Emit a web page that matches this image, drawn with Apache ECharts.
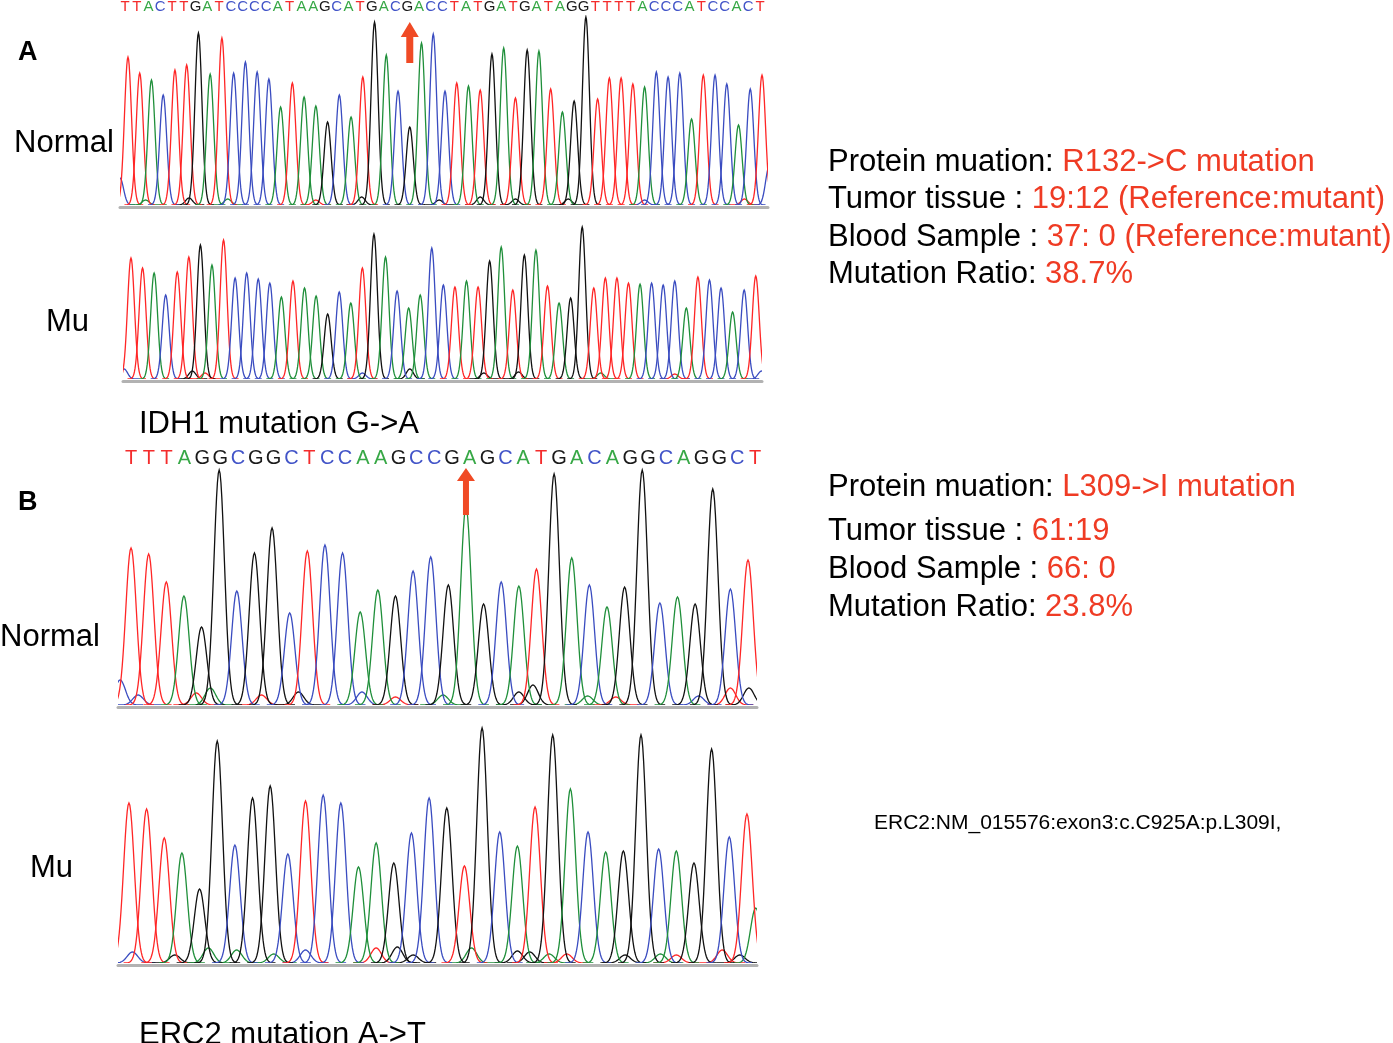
<!DOCTYPE html>
<html lang="en">
<head>
<meta charset="UTF-8">
<title>IDH1 / ERC2 chromatograms</title>
<script src="https://cdn.jsdelivr.net/npm/echarts@6/dist/echarts.min.js"></script>
<style>
    html, body { margin: 0; padding: 0; background: #fff; }
    #main { width: 1393px; height: 1043px; }
</style>
</head>
<body>
<div id="main"></div>
<script>
// base calls (top of each normal trace) and the mutant calls
var seqA   = 'TTACTTGATCCCCATAAGCATGACGACCTATGATGATAGGTTTTACCCATCCACT';
var seqAMu = 'TTACTTGATCCCCATAAGCATGACAACCTATGATGATAGGTTTTACCCATCCACT';
var seqB   = 'TTTAGGCGGCTCCAAGCCGAGCATGACAGGCAGGCT';
var seqBMu = 'TTTAGGCGGCTCCAAGCCGTGCATGACAGGCAGGCT';

// peak heights, one per base
var normalA = [148,132,125,110,135,140,172,131,167,132,143,133,126,98,122,108,99,83,110,88,128,183,150,114,78,162,171,114,
               122,119,115,151,157,107,155,154,116,93,104,188,106,127,127,121,118,133,128,132,86,130,130,121,80,116,130];
var muA     = [121,111,106,84,107,122,134,114,139,101,106,100,96,82,98,91,83,65,87,76,111,145,122,88,71,84,131,94,
               92,98,92,118,132,89,124,129,93,76,81,152,91,101,101,96,95,96,94,98,71,102,99,91,67,89,103];
var normalB = [157,151,123,109,78,235,114,152,177,92,154,160,152,93,115,109,134,148,
               120,198,101,123,119,136,231,147,120,98,118,235,102,108,101,216,116,145];
var muB     = [160,154,125,110,74,222,118,165,177,109,162,168,160,96,120,100,130,165,
               155,97,235,131,117,156,228,174,131,111,112,228,114,112,100,214,126,149];

// small off-call bumps near the baseline: [position, height, base]
var minorNA = [[-0.68,27,'C'],[1.5,5,'A'],[5.2,7,'G'],[8.5,6,'A'],[16,5,'T'],[19.9,8,'G'],[26.5,5,'G'],
               [30,8,'G'],[33,6,'G'],[37.5,6,'G'],[44,5,'C'],[52.5,6,'T'],[54.6,38,'C']];
var minorMA = [[-0.6,10,'C'],[5.3,8,'G'],[6.4,6,'T'],[20,6,'C'],[24.1,10,'G'],[30.5,6,'G'],[33.5,7,'G'],
               [40.6,6,'A'],[47,5,'T'],[54.5,8,'C']];
var minorNB = [[-0.62,25,'C'],[0.4,10,'C'],[3.7,12,'T'],[4.5,17,'A'],[7.4,10,'T'],[9.5,13,'G'],[13.1,13,'C'],
               [15,8,'T'],[17.7,10,'A'],[22,13,'G'],[22.8,20,'G'],[25.9,9,'A'],[27.5,8,'T'],[32.2,9,'C'],
               [34,17,'T'],[35.05,17,'G']];
var minorMB = [[0.2,11,'C'],[2.6,8,'G'],[4.5,15,'A'],[6.1,13,'A'],[8.2,9,'A'],[10,13,'C'],[14,15,'T'],
               [15.2,16,'G'],[16.1,8,'G'],[19.4,15,'A'],[22,12,'G'],[22.7,11,'G'],[23.8,9,'A'],[24.8,9,'T'],
               [28.1,8,'G'],[30.1,9,'A'],[31,8,'T'],[33.6,13,'T'],[34.6,8,'G'],[35.5,55,'A']];

var mutIndexA = 24;
var mutIndexB = 19;

var infoA = [
    ['Protein muation: ', 'R132->C mutation'],
    ['Tumor tissue : ', '19:12 (Reference:mutant)'],
    ['Blood Sample : ', '37: 0 (Reference:mutant)'],
    ['Mutation Ratio: ', '38.7%']
];
var infoB = [
    ['Protein muation: ', 'L309->I mutation'],
    ['Tumor tissue : ', '61:19'],
    ['Blood Sample : ', '66: 0'],
    ['Mutation Ratio: ', '23.8%']
];
var noteB = 'ERC2:NM_015576:exon3:c.C925A:p.L309I,';

var traceColor  = { A: '#1f8f3a', C: '#3a4cc0', G: '#111111', T: '#ff2626' };
var letterColor = { A: '#37a846', C: '#4254c8', G: '#1a1a1a', T: '#f42c2c' };
var RED = '#ef3b24';
var FONT = '"Liberation Sans", Arial, Helvetica, sans-serif';

var chart = echarts.init(document.getElementById('main'));

// panel geometry: normal A, mu A, normal B, mu B
var panels = [
    { left: 120, top: 15,  width: 648, height: 190, xmin: -0.68, xmax: 54.51, ymax: 190 },
    { left: 123, top: 189, width: 639, height: 190, xmin: -0.69, xmax: 54.54, ymax: 190 },
    { left: 118, top: 465, width: 639, height: 240, xmin: -0.74, xmax: 35.51, ymax: 240 },
    { left: 118, top: 723, width: 639, height: 240, xmin: -0.62, xmax: 35.57, ymax: 240 }
];

var grids = [], xAxes = [], yAxes = [];
panels.forEach(function (p, i) {
    grids.push({ left: p.left, top: p.top, width: p.width, height: p.height });
    xAxes.push({
        type: 'value', gridIndex: i, min: p.xmin, max: p.xmax,
        axisLine: { show: true, onZero: false, lineStyle: { color: '#b2b2b2', width: 3 } },
        offset: 2, axisTick: { show: false }, axisLabel: { show: false }, splitLine: { show: false }
    });
    yAxes.push({ type: 'value', gridIndex: i, min: 0, max: p.ymax, show: false, splitLine: { show: false } });
});
// separate axes for the called-letter rows (their spacing differs a little from the peaks)
xAxes.push({ type: 'value', gridIndex: 0, min: -0.425, max: 54.68, show: false });
xAxes.push({ type: 'value', gridIndex: 2, min: -0.73, max: 35.11, show: false });

var SIGMA = 0.3;

function renderPeak(params, api) {
    var pos = api.value(0), h = api.value(1);
    var pts = [];
    for (var d = -1.3; d <= 1.3001; d += 0.05) {
        pts.push(api.coord([pos + d, h * Math.exp(-d * d / (2 * SIGMA * SIGMA))]));
    }
    return {
        type: 'polyline',
        shape: { points: pts },
        style: { stroke: api.visual('color'), lineWidth: 1.3, fill: null }
    };
}

function peakData(heights, seq, minor) {
    var out = [];
    minor.forEach(function (m) {
        out.push({ value: [m[0], m[1]], itemStyle: { color: traceColor[m[2]] } });
    });
    heights.forEach(function (h, i) {
        out.push({ value: [i, h], itemStyle: { color: traceColor[seq[i]] } });
    });
    return out;
}

function letterData(seq, ymax) {
    return seq.split('').map(function (b, i) {
        return { value: [i, ymax], itemStyle: { color: letterColor[b] } };
    });
}

var seqLetters = { lettersA: seqA, lettersB: seqB };

function letterRender(fontSize, dy) {
    return function (params, api) {
        var pt = api.coord([api.value(0), api.value(1)]);
        return {
            type: 'text',
            x: pt[0], y: pt[1] + dy,
            style: {
                text: seqLetters[params.seriesName][params.dataIndex],
                fill: api.visual('color'),
                font: fontSize + 'px ' + FONT,
                align: 'center', verticalAlign: 'middle'
            }
        };
    };
}

function arrowRender(headH, headW, shaftW) {
    return function (params, api) {
        var tip = api.coord([api.value(0), api.value(1)]);
        var bot = api.coord([api.value(0), api.value(2)]);
        var x = tip[0], y = tip[1];
        return {
            type: 'polygon',
            shape: { points: [
                [x, y], [x + headW, y + headH], [x + shaftW, y + headH],
                [x + shaftW, bot[1]], [x - shaftW, bot[1]], [x - shaftW, y + headH], [x - headW, y + headH]
            ] },
            style: { fill: '#f04a25' }
        };
    };
}

var series = [
    { type: 'custom', name: 'normalA', xAxisIndex: 0, yAxisIndex: 0, clip: true, renderItem: renderPeak, data: peakData(normalA, seqA, minorNA) },
    { type: 'custom', name: 'muA',     xAxisIndex: 1, yAxisIndex: 1, clip: true, renderItem: renderPeak, data: peakData(muA, seqAMu, minorMA) },
    { type: 'custom', name: 'normalB', xAxisIndex: 2, yAxisIndex: 2, clip: true, renderItem: renderPeak, data: peakData(normalB, seqB, minorNB) },
    { type: 'custom', name: 'muB',     xAxisIndex: 3, yAxisIndex: 3, clip: true, renderItem: renderPeak, data: peakData(muB, seqBMu, minorMB) },
    { type: 'custom', name: 'lettersA', xAxisIndex: 4, yAxisIndex: 0, clip: false, renderItem: letterRender(15, -8), data: letterData(seqA, 190) },
    { type: 'custom', name: 'lettersB', xAxisIndex: 5, yAxisIndex: 2, clip: false, renderItem: letterRender(20, -7), data: letterData(seqB, 240) },
    { type: 'custom', name: 'arrowA', xAxisIndex: 0, yAxisIndex: 0, clip: false, z: 5, renderItem: arrowRender(15, 9, 3.5), data: [[mutIndexA, 183, 142]] },
    { type: 'custom', name: 'arrowB', xAxisIndex: 2, yAxisIndex: 2, clip: false, z: 5, renderItem: arrowRender(13, 9, 3), data: [[mutIndexB, 237, 190]] }
];

function label(text, x, y, size, weight) {
    return {
        type: 'text', x: x, y: y,
        style: { text: text, fill: '#000', font: (weight || 'normal') + ' ' + size + 'px ' + FONT, verticalAlign: 'middle' }
    };
}

function infoLine(pair, x, y) {
    return {
        type: 'text', x: x, y: y,
        style: {
            text: '{k|' + pair[0] + '}{v|' + pair[1] + '}',
            verticalAlign: 'middle',
            rich: {
                k: { fill: '#000', font: '31px ' + FONT },
                v: { fill: RED, font: '31px ' + FONT }
            }
        }
    };
}

var graphics = [
    label('A', 18, 53, 27, 'bold'),
    label('Normal', 14, 143, 31),
    label('Mu', 46, 322, 31),
    label('IDH1 mutation G->A', 139, 424, 31),
    label('B', 18, 503, 27, 'bold'),
    label('Normal', 0, 637, 31),
    label('Mu', 30, 868, 31),
    label('ERC2 mutation A->T', 139, 1035, 31),
    label(noteB, 874, 823, 21)
];
var rowsA = [162, 199, 237, 274];
var rowsB = [487, 531, 569, 607];
infoA.forEach(function (p, i) { graphics.push(infoLine(p, 828, rowsA[i])); });
infoB.forEach(function (p, i) { graphics.push(infoLine(p, 828, rowsB[i])); });

chart.setOption({
    animation: false,
    backgroundColor: '#fff',
    grid: grids,
    xAxis: xAxes,
    yAxis: yAxes,
    series: series,
    graphic: graphics
});
</script>
</body>
</html>
